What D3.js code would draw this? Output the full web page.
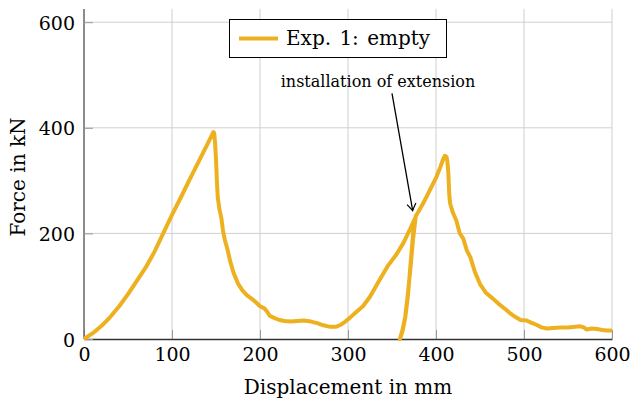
<!DOCTYPE html>
<html>
<head>
<meta charset="utf-8">
<script src="https://cdn.jsdelivr.net/npm/d3@7"></script>
<style>
  body { margin: 0; background: #fff; }
</style>
</head>
<body>
<script>
const [width, height] = [630, 400];
const margin = { top: 9, right: 18, bottom: 61, left: 84 };
const lineColor = "#EDB120";
const serif = "'DejaVu Serif', serif";

const displacement = [
  0, 10, 20, 30, 40, 50, 60, 70, 80, 90, 100, 110, 120, 130, 140, 147,
  148, 149, 150, 151, 152, 154, 156, 158, 160, 163, 166, 170, 175, 180, 185, 190, 195, 200,
  205, 208, 211, 216, 222, 228, 235, 242, 250, 258, 265, 272, 280, 286, 292, 297,
  302, 310, 317, 325, 336, 345, 355, 363, 370, 376,
  374, 371, 368, 365, 362, 359,
  362, 365, 368, 371, 374, 377,
  380, 387, 393, 400, 405, 408, 410, 412, 413, 414, 415, 416, 419, 423, 427, 431, 435, 439,
  444, 450, 457, 465, 473, 480, 484, 490, 496, 503, 508, 514, 520, 526, 533, 541, 550, 558,
  564, 568, 571, 577, 583, 589, 594, 600
];
const force = [
  0, 11, 25, 42, 62, 85, 110, 135, 165, 200, 235, 268, 302, 335, 368, 392,
  390, 370, 340, 300, 268, 245, 230, 205, 188, 170, 148, 125, 105, 92, 83, 77, 70, 62,
  58, 52, 44, 40, 36, 34, 33, 34, 35, 33, 30, 26, 23, 23, 27, 33,
  40, 52, 62, 80, 112, 138, 160, 182, 206, 228,
  200, 140, 80, 40, 15, 0,
  18, 42, 85, 135, 190, 233,
  241, 262, 282, 305, 326, 340, 347, 345, 335, 315, 275, 257, 240, 225, 200, 190, 168, 155,
  128, 104, 87, 76, 64, 55, 49, 42, 36, 35, 31, 27, 22, 20, 21, 22, 22, 23,
  24, 22, 18, 20, 19, 17, 16, 16
];
const xTicks = [0, 100, 200, 300, 400, 500, 600];
const yTicks = [0, 200, 400, 600];

const svg = d3.select("body").append("svg")
  .attr("width", width)
  .attr("height", height);

const x = d3.scaleLinear([0, 600], [margin.left, width - margin.right]);
const y = d3.scaleLinear([0, 625], [height - margin.bottom, margin.top]);

// grid
svg.append("g")
  .selectAll("line")
  .data(xTicks.slice(1))
  .enter().append("line")
    .attr("x1", d => x(d)).attr("x2", d => x(d))
    .attr("y1", y(0)).attr("y2", margin.top)
    .attr("stroke", "#cfcfcf");
svg.append("g")
  .selectAll("line")
  .data(yTicks.slice(1))
  .enter().append("line")
    .attr("y1", d => y(d)).attr("y2", d => y(d))
    .attr("x1", x(0)).attr("x2", x(600))
    .attr("stroke", "#cfcfcf");

// axes, ticks pointing inside
const xAxis = svg.append("g")
  .attr("transform", `translate(0,${y(0)})`)
  .call(d3.axisBottom(x).tickValues(xTicks).tickSize(-9).tickSizeOuter(0).tickPadding(9));
const yAxis = svg.append("g")
  .attr("transform", `translate(${x(0)},0)`)
  .call(d3.axisLeft(y).tickValues(yTicks).tickSize(-9).tickSizeOuter(0).tickPadding(9));

[xAxis, yAxis].forEach(g => {
  g.attr("font-family", null).attr("font-size", null);
  g.selectAll(".tick line").attr("stroke", "#999");
  g.selectAll(".tick text")
    .style("font-family", serif)
    .style("font-size", "19px");
});
yAxis.selectAll(".tick text").attr("dy", "0.37em");
xAxis.select(".domain").attr("stroke", "#333").attr("stroke-width", 1.5);
yAxis.select(".domain").attr("stroke", "#666").attr("stroke-width", 1.5)
  .attr("d", `M0,${y(0)}V${margin.top}`);

// curve
const line = d3.line()
  .x((d, i) => x(displacement[i]))
  .y(d => y(d));
svg.append("path")
  .datum(force)
  .attr("d", line)
  .attr("fill", "none")
  .attr("stroke", lineColor)
  .attr("stroke-width", 4)
  .attr("stroke-linejoin", "round");

// axis labels
svg.append("text")
  .text("Displacement in mm")
  .attr("x", (x(0) + x(600)) / 2)
  .attr("y", 394)
  .attr("text-anchor", "middle")
  .style("font-family", serif)
  .style("font-size", "20px");
svg.append("text")
  .text("Force in kN")
  .attr("transform", "translate(25,177) rotate(-90)")
  .attr("text-anchor", "middle")
  .style("font-family", serif)
  .style("font-size", "20px");

// annotation with arrow
svg.append("defs").append("marker")
  .attr("id", "head")
  .attr("viewBox", "-10 -6 12 12")
  .attr("markerWidth", 12).attr("markerHeight", 12)
  .attr("markerUnits", "userSpaceOnUse")
  .attr("orient", "auto")
  .append("path")
    .attr("d", "M-7,-4.5 Q-2,-1 0,0 Q-2,1 -7,4.5")
    .attr("fill", "none")
    .attr("stroke", "#000")
    .attr("stroke-width", 1.2);
svg.append("line")
  .attr("x1", x(350)).attr("y1", y(465))
  .attr("x2", x(373.5)).attr("y2", y(243))
  .attr("stroke", "#000")
  .attr("stroke-width", 1.3)
  .attr("marker-end", "url(#head)");
svg.append("text")
  .text("installation of extension")
  .attr("x", 378)
  .attr("y", 87)
  .attr("text-anchor", "middle")
  .style("font-family", serif)
  .style("font-size", "16px");

// legend
const legend = svg.append("g");
legend.append("rect")
  .attr("x", 229.5).attr("y", 19.5)
  .attr("width", 217).attr("height", 38)
  .attr("fill", "#fff")
  .attr("stroke", "#000");
legend.append("line")
  .attr("x1", 239).attr("x2", 278)
  .attr("y1", 38.5).attr("y2", 38.5)
  .attr("stroke", lineColor)
  .attr("stroke-width", 4);
legend.append("text")
  .text("Exp. 1: empty")
  .attr("x", 286)
  .attr("y", 45)
  .style("font-family", serif)
  .style("font-size", "20px")
  .style("word-spacing", "2px");
</script>
</body>
</html>
